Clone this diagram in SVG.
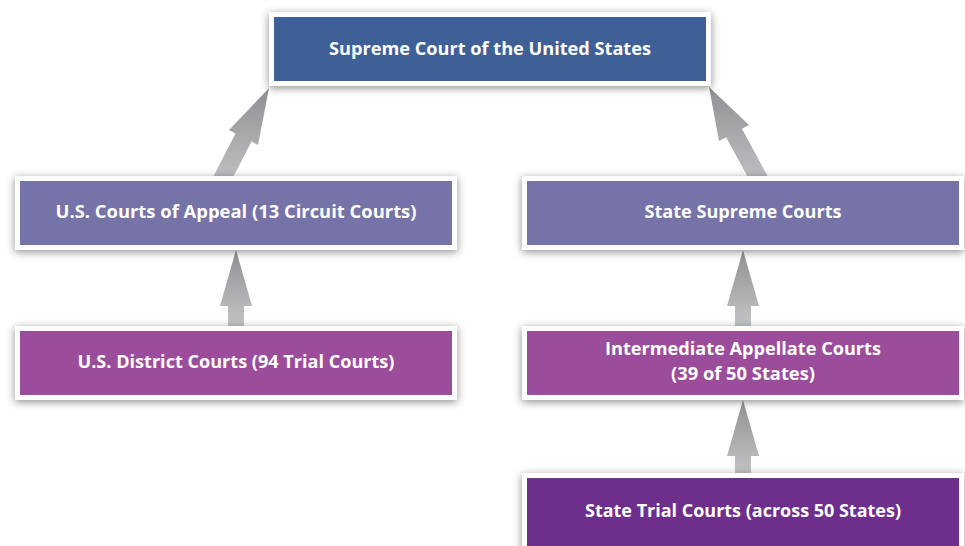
<svg xmlns="http://www.w3.org/2000/svg" width="965" height="546" viewBox="0 0 965 546">
<defs>
<filter id="sh" x="-10%" y="-40%" width="120%" height="180%">
<feDropShadow dx="0" dy="2" stdDeviation="4" flood-color="#000" flood-opacity="0.45"/>
</filter>
<linearGradient id="ag" x1="0" y1="0" x2="0" y2="1">
<stop offset="0" stop-color="#8f9093"/>
<stop offset="1" stop-color="#c6c7c9"/>
</linearGradient>
<style>
.frame{fill:#ffffff;filter:url(#sh)}
.lbl{font-family:"Open Sans","Liberation Sans",sans-serif;font-weight:700;font-size:18px;fill:#ffffff;text-anchor:middle}
.arr{fill:url(#ag)}
</style>
</defs>
<rect width="965" height="546" fill="#ffffff"/>
<g id="connectors">
<polygon class="arr" points="269,88 258,145 251.5,141.6 224.5,194.1 208.5,185.9 235.5,133.4 229,130"/>
<polygon class="arr" points="709,87 749,125 741.9,128.8 772.9,185.8 757.1,194.2 726.1,137.2 719,141"/>
<polygon class="arr" points="236,250 252,306 244,306 244,330 228,330 228,306 220,306"/>
<polygon class="arr" points="743,250 759,306 751,306 751,330 735,330 735,306 727,306"/>
<polygon class="arr" points="743,400 759,456 751,456 751,478 735,478 735,456 727,456"/>
</g>
<g id="supreme-court">
<rect class="frame" x="269" y="12" width="442" height="74"/>
<rect x="274" y="17" width="432" height="64" fill="#3e6097"/>
<text class="lbl" x="490" y="55" textLength="322" lengthAdjust="spacingAndGlyphs">Supreme Court of the United States</text>
</g>
<g id="courts-of-appeal">
<rect class="frame" x="15" y="176" width="442" height="74"/>
<rect x="20" y="181" width="432" height="64" fill="#7573a8"/>
<text class="lbl" x="236" y="218" textLength="361" lengthAdjust="spacingAndGlyphs">U.S. Courts of Appeal (13 Circuit Courts)</text>
</g>
<g id="state-supreme-courts">
<rect class="frame" x="522" y="176" width="442" height="74"/>
<rect x="527" y="181" width="432" height="64" fill="#7573a8"/>
<text class="lbl" x="743" y="218" textLength="197" lengthAdjust="spacingAndGlyphs">State Supreme Courts</text>
</g>
<g id="district-courts">
<rect class="frame" x="15" y="326" width="442" height="74"/>
<rect x="20" y="331" width="432" height="64" fill="#9b4d9b"/>
<text class="lbl" x="236" y="368" textLength="317" lengthAdjust="spacingAndGlyphs">U.S. District Courts (94 Trial Courts)</text>
</g>
<g id="intermediate-appellate">
<rect class="frame" x="522" y="326" width="442" height="74"/>
<rect x="527" y="331" width="432" height="64" fill="#9b4d9b"/>
<text class="lbl" x="743" y="355" textLength="276" lengthAdjust="spacingAndGlyphs">Intermediate Appellate Courts</text>
<text class="lbl" x="743" y="380" textLength="144" lengthAdjust="spacingAndGlyphs">(39 of 50 States)</text>
</g>
<g id="state-trial-courts">
<rect class="frame" x="522" y="473" width="442" height="80"/>
<rect x="527" y="478" width="432" height="75" fill="#6e2e8c"/>
<text class="lbl" x="743" y="517" textLength="316" lengthAdjust="spacingAndGlyphs">State Trial Courts (across 50 States)</text>
</g>
</svg>
